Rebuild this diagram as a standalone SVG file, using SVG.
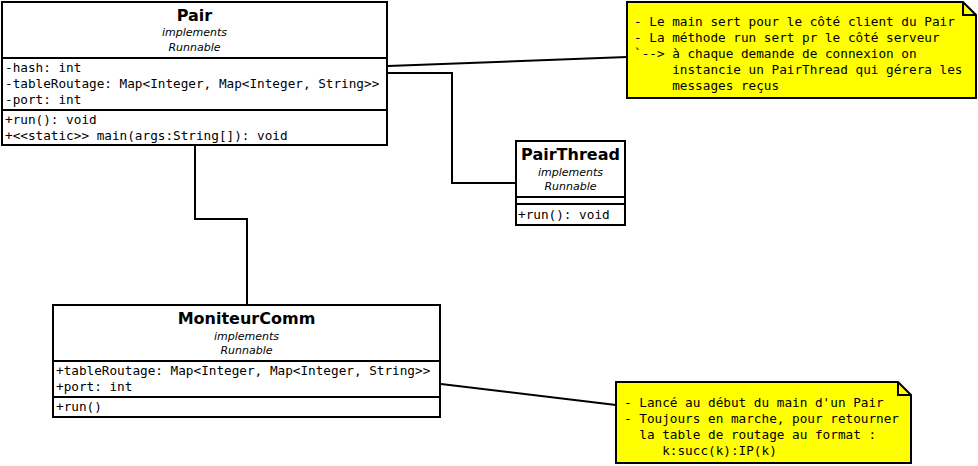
<svg xmlns="http://www.w3.org/2000/svg" width="978" height="466" viewBox="0 0 978 466">
<style>
.box{fill:#fff;stroke:#000;stroke-width:2}
.sep{stroke:#000;stroke-width:2;fill:none}
.note{fill:#ffff00;stroke:#000;stroke-width:2}
.conn{fill:none;stroke:#000;stroke-width:2}
.title{font-family:"DejaVu Sans",sans-serif;font-weight:bold;font-size:16px;text-anchor:middle}
.st{font-family:"DejaVu Sans",sans-serif;font-style:italic;font-size:11px;text-anchor:middle}
.mono{font-family:"DejaVu Sans Mono",monospace;font-size:12.7px;white-space:pre}
</style>
<rect width="978" height="466" fill="#fff"/>
<g id="connectors">
<path class="conn" d="M388,66 L627,57"/>
<path class="conn" d="M388,73 H452 V183 H516"/>
<path class="conn" d="M195,146 V219 H247 V304"/>
<path class="conn" d="M441,384 L616,405"/>
</g>
<g id="Pair">
<rect class="box" x="2" y="2" width="385" height="143"/>
<line class="sep" x1="2" y1="58" x2="387" y2="58"/>
<line class="sep" x1="2" y1="110" x2="387" y2="110"/>
<text class="title" x="194.5" y="21">Pair</text>
<text class="st" x="194.5" y="36">implements</text>
<text class="st" x="194.5" y="51">Runnable</text>
<text class="mono" x="5" y="72">-hash: int</text>
<text class="mono" x="5" y="88">-tableRoutage: Map&lt;Integer, Map&lt;Integer, String&gt;&gt;</text>
<text class="mono" x="5" y="104">-port: int</text>
<text class="mono" x="5" y="124">+run(): void</text>
<text class="mono" x="5" y="140">+&lt;&lt;static&gt;&gt; main(args:String[]): void</text>
</g>
<g id="PairThread">
<rect class="box" x="516" y="141" width="109" height="84"/>
<line class="sep" x1="516" y1="197" x2="625" y2="197"/>
<line class="sep" x1="516" y1="204" x2="625" y2="204"/>
<text class="title" x="570.5" y="160">PairThread</text>
<text class="st" x="570.5" y="176">implements</text>
<text class="st" x="570.5" y="190">Runnable</text>
<text class="mono" x="518" y="219">+run(): void</text>
</g>
<g id="MoniteurComm">
<rect class="box" x="53" y="305" width="387" height="112"/>
<line class="sep" x1="53" y1="361" x2="440" y2="361"/>
<line class="sep" x1="53" y1="397" x2="440" y2="397"/>
<text class="title" x="246.5" y="324">MoniteurComm</text>
<text class="st" x="246.5" y="340">implements</text>
<text class="st" x="246.5" y="354">Runnable</text>
<text class="mono" x="56" y="375">+tableRoutage: Map&lt;Integer, Map&lt;Integer, String&gt;&gt;</text>
<text class="mono" x="56" y="391">+port: int</text>
<text class="mono" x="56" y="411">+run()</text>
</g>
<g id="note1">
<path class="note" d="M627,2 H963 L976,15 V98 H627 Z"/>
<path class="sep" d="M963,2 V15 H976"/>
<text class="mono" x="634" y="26">- Le main sert pour le côté client du Pair</text>
<text class="mono" x="634" y="42">- La méthode run sert pr le côté serveur</text>
<text class="mono" x="634" y="58">`--&gt; à chaque demande de connexion on</text>
<text class="mono" x="634" y="74">     instancie un PairThread qui gérera les</text>
<text class="mono" x="634" y="90">     messages reçus</text>
</g>
<g id="note2">
<path class="note" d="M616,382 H898 L911,395 V463 H616 Z"/>
<path class="sep" d="M898,382 V395 H911"/>
<text class="mono" x="624" y="407">- Lancé au début du main d'un Pair</text>
<text class="mono" x="624" y="423">- Toujours en marche, pour retourner</text>
<text class="mono" x="624" y="439">  la table de routage au format :</text>
<text class="mono" x="624" y="455">     k:succ(k):IP(k)</text>
</g>
</svg>
